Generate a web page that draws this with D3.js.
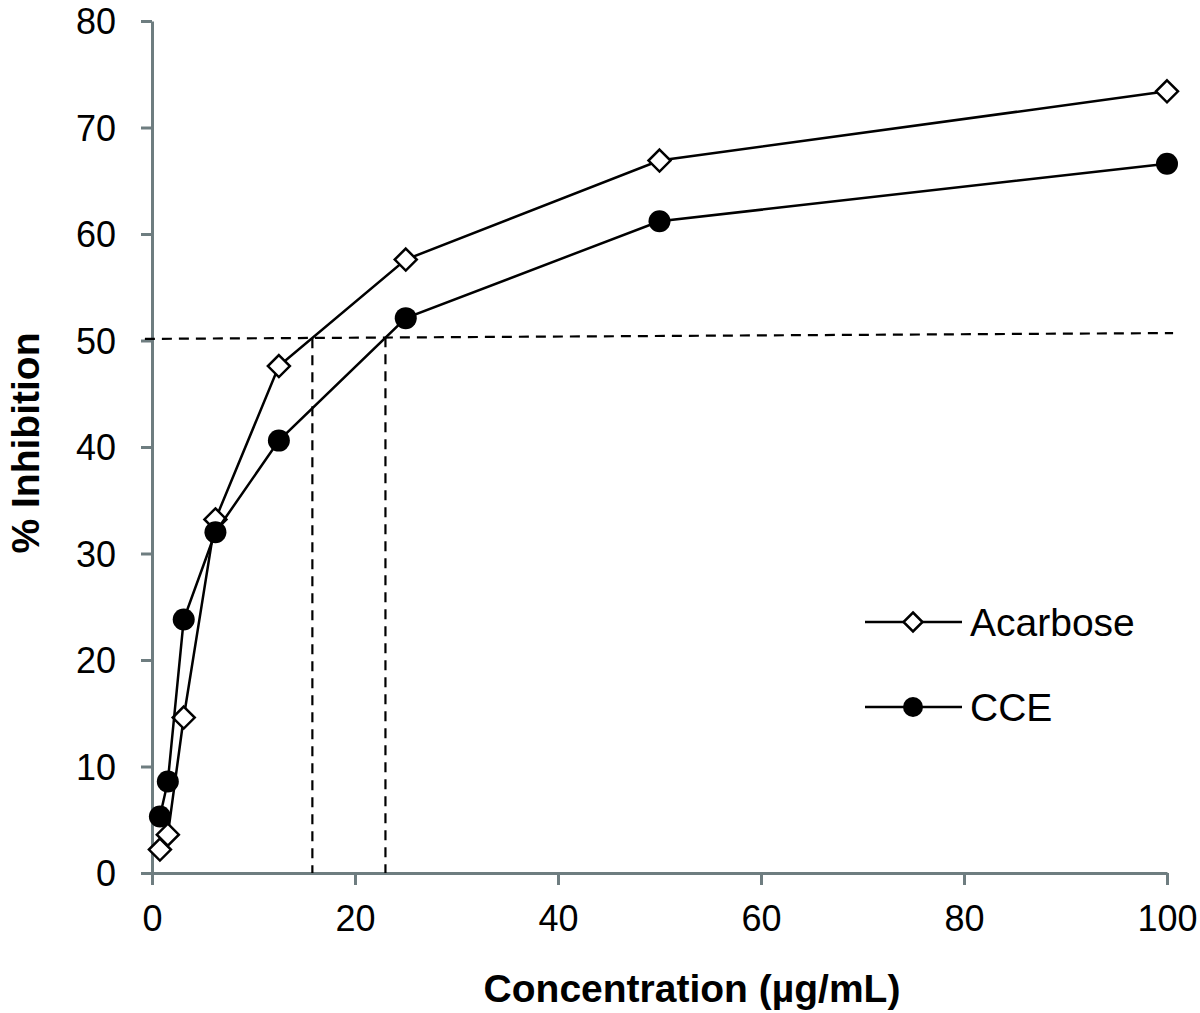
<!DOCTYPE html>
<html lang="en">
<head>
<meta charset="UTF-8">
<title>% Inhibition vs concentration</title>
<script src="https://d3js.org/d3.v7.min.js"></script>
<style>
  body { margin: 0; background: #fff; }
  svg text { font-family: "Liberation Sans", Arial, sans-serif; fill: #000; }
</style>
</head>
<body>
<div id="chart"></div>
<script>
// concentrations (µg/mL)
const concentrations = [0.78, 1.56, 3.125, 6.25, 12.5, 25, 50, 100];
const acarbose = [2.2, 3.6, 14.6, 33.2, 47.6, 57.6, 66.9, 73.4];
const cce = [5.3, 8.6, 23.8, 32.0, 40.6, 52.1, 61.2, 66.6];
const xTicks = [0, 20, 40, 60, 80, 100];
const yTicks = [0, 10, 20, 30, 40, 50, 60, 70, 80];
// IC50 guide lines (hand drawn in original, so ends differ slightly)
const ic50Horizontal = [[-0.7, 50.15], [100.6, 50.7]];
const ic50Acarbose = [[15.8, 50.2], [15.8, 0]];
const ic50Cce = [[23.0, 50.3], [23.0, 0]];

const width = 1200, height = 1013;
const axisColor = "#6e7d80";

const svg = d3.select("#chart").append("svg")
    .attr("width", width).attr("height", height);

const x = d3.scaleLinear().domain([0, 100]).range([152, 1167]);
const y = d3.scaleLinear().domain([0, 80]).range([873, 21]);

// axes
const xAxis = svg.append("g")
    .attr("transform", `translate(0,${y(0)})`)
    .call(d3.axisBottom(x).tickValues(xTicks).tickSize(12).tickPadding(20).tickSizeOuter(0));
const yAxis = svg.append("g")
    .attr("transform", `translate(${x(0)},0)`)
    .call(d3.axisLeft(y).tickValues(yTicks).tickSize(11).tickPadding(25).tickSizeOuter(0));

[xAxis, yAxis].forEach(g => {
    g.select(".domain").attr("stroke", axisColor).attr("stroke-width", 3);
    g.selectAll(".tick line").attr("stroke", axisColor).attr("stroke-width", 3);
    g.selectAll(".tick text")
        .style("font-size", "36px")
        .style("font-family", "'Liberation Sans', Arial, sans-serif")
        .attr("fill", "#000");
});
yAxis.selectAll(".tick text").attr("dy", "0.36em");

// dashed guide lines
const line = d3.line().x(d => x(d[0])).y(d => y(d[1]));
[ic50Horizontal, ic50Acarbose, ic50Cce].forEach(pts => {
    svg.append("path")
        .attr("d", line(pts))
        .attr("fill", "none")
        .attr("stroke", "#000")
        .attr("stroke-width", 2.2)
        .attr("stroke-dasharray", "10,7");
});

// series
const series = [
    { name: "Acarbose", values: acarbose, marker: "diamond" },
    { name: "CCE", values: cce, marker: "circle" }
];

const diamond = (cx, cy, r) => `M${cx},${cy - r}L${cx + r},${cy}L${cx},${cy + r}L${cx - r},${cy}Z`;

function drawMarker(g, type, cx, cy, size) {
    if (type === "diamond") {
        g.append("path")
            .attr("d", diamond(cx, cy, size))
            .attr("fill", "#fff")
            .attr("stroke", "#000")
            .attr("stroke-width", 2.5);
    } else {
        g.append("circle")
            .attr("cx", cx).attr("cy", cy).attr("r", size)
            .attr("fill", "#000");
    }
}

series.forEach(s => {
    const pts = concentrations.map((c, i) => [c, s.values[i]]);
    svg.append("path")
        .attr("d", line(pts))
        .attr("fill", "none")
        .attr("stroke", "#000")
        .attr("stroke-width", 2.5);
    const g = svg.append("g");
    pts.forEach(p => drawMarker(g, s.marker, x(p[0]), y(p[1]), 11));
});

// legend
const legend = svg.append("g");
series.forEach((s, i) => {
    const ly = 622 + i * 85;
    legend.append("line")
        .attr("x1", 865).attr("x2", 962)
        .attr("y1", ly).attr("y2", ly)
        .attr("stroke", "#000").attr("stroke-width", 2.5);
    drawMarker(legend, s.marker, 913, ly, s.marker === "diamond" ? 9.5 : 10);
    legend.append("text")
        .attr("x", 970).attr("y", ly + 14)
        .style("font-size", "39px")
        .text(s.name);
});

// axis titles
svg.append("text")
    .attr("x", 692).attr("y", 1002)
    .attr("text-anchor", "middle")
    .style("font-size", "39px")
    .style("font-weight", "bold")
    .text("Concentration (µg/mL)");

svg.append("text")
    .attr("transform", "translate(39,443) rotate(-90)")
    .attr("text-anchor", "middle")
    .style("font-size", "39px")
    .style("font-weight", "bold")
    .text("% Inhibition");
</script>
</body>
</html>
